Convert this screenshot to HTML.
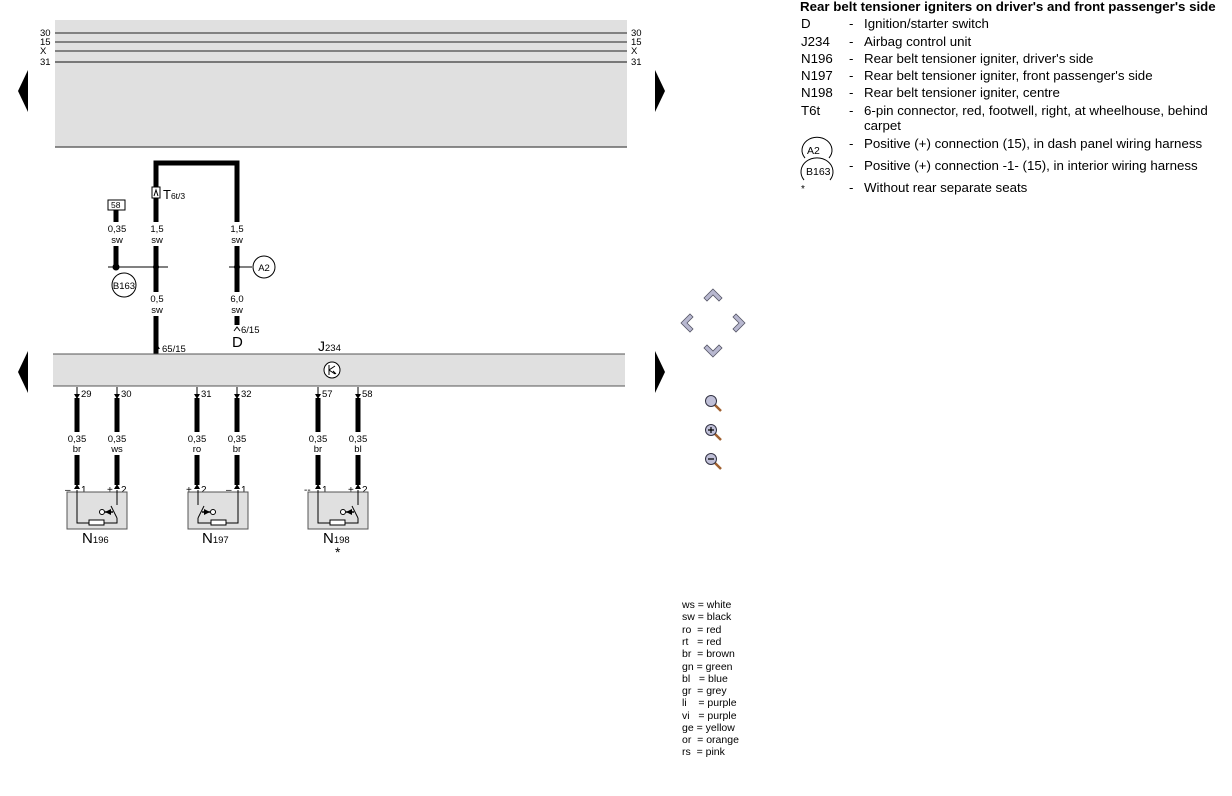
<!DOCTYPE html>
<html><head><meta charset="utf-8"><style>
body{margin:0;background:#fff;width:1232px;height:791px;overflow:hidden;font-family:"Liberation Sans",Arial,sans-serif}
svg text{font-family:"Liberation Sans",Arial,sans-serif}
</style></head><body>
<svg width="1232" height="791" viewBox="0 0 1232 791" xmlns="http://www.w3.org/2000/svg">
<defs>
<g id="comp">
 <rect x="0" y="0" width="60" height="37" fill="#e0e0e0" stroke="#555" stroke-width="1"/>
 <polyline points="10,-2 10,31 50,31 50,26" fill="none" stroke="#000" stroke-width="1"/>
 <rect x="22" y="28" width="15" height="5" fill="#fff" stroke="#000" stroke-width="1"/>
 <polyline points="50,-2 50,13" fill="none" stroke="#000" stroke-width="1"/>
 <line x1="44" y1="14" x2="50" y2="26" stroke="#000" stroke-width="1"/>
 <circle cx="35" cy="20" r="2.5" fill="#fff" stroke="#000"/>
 <polygon points="38,20 44,17 44,23" fill="#000"/>
 <line x1="38" y1="20" x2="46" y2="20" stroke="#000" stroke-width="1.5"/>
</g>
<g id="up"><polygon points="0,0 -3,5 3,5" fill="#000"/></g>
<g id="dn"><polygon points="0,0 -3,-5 3,-5" fill="#000"/></g>
</defs>

<rect x="55" y="20" width="572" height="127" fill="#e0e0e0"/>
<line x1="55" y1="147" x2="627" y2="147" stroke="#666" stroke-width="1.5"/>
<line x1="55" y1="33" x2="627" y2="33" stroke="#222" stroke-width="1"/>
<line x1="55" y1="42" x2="627" y2="42" stroke="#222" stroke-width="1"/>
<line x1="55" y1="51" x2="627" y2="51" stroke="#222" stroke-width="1"/>
<line x1="55" y1="62" x2="627" y2="62" stroke="#555" stroke-width="1.5"/>
<g font-size="9.5" fill="#000">
<text x="40" y="36">30</text><text x="40" y="45">15</text><text x="40" y="54">X</text><text x="40" y="65">31</text>
<text x="631" y="36">30</text><text x="631" y="45">15</text><text x="631" y="54">X</text><text x="631" y="65">31</text>
</g>
<polygon points="28,70 18,91 28,112" fill="#000"/>
<polygon points="655,70 665,91 655,112" fill="#000"/>

<polyline points="156,222 156,163 237,163 237,222" fill="none" stroke="#000" stroke-width="5"/>
<rect x="152" y="187" width="8" height="11" fill="#fff" stroke="#000"/>
<polyline points="154,196 156,190 158,196" fill="none" stroke="#000"/>
<text x="163" y="199" font-size="13">T<tspan font-size="8.5">6t/3</tspan></text>
<rect x="108" y="200" width="17" height="10" fill="#fff" stroke="#000"/>
<text x="111" y="208" font-size="8.5">58</text>
<line x1="116" y1="210" x2="116" y2="222" stroke="#000" stroke-width="5"/>
<g font-size="9.5" text-anchor="middle">
<text x="117" y="232">0,35</text><text x="117" y="243">sw</text>
<text x="157" y="232">1,5</text><text x="157" y="243">sw</text>
<text x="237" y="232">1,5</text><text x="237" y="243">sw</text>
<text x="157" y="302">0,5</text><text x="157" y="313">sw</text>
<text x="237" y="302">6,0</text><text x="237" y="313">sw</text>
</g>
<line x1="116" y1="246" x2="116" y2="267" stroke="#000" stroke-width="5"/>
<line x1="156" y1="246" x2="156" y2="292" stroke="#000" stroke-width="5"/>
<line x1="237" y1="246" x2="237" y2="292" stroke="#000" stroke-width="5"/>
<line x1="108" y1="267" x2="168" y2="267" stroke="#000" stroke-width="1"/>
<line x1="229" y1="267" x2="252" y2="267" stroke="#000" stroke-width="1"/>
<circle cx="116" cy="267" r="3.5" fill="#000"/>
<circle cx="156" cy="267" r="3" fill="#000"/>
<circle cx="237" cy="267" r="3" fill="#000"/>
<circle cx="124" cy="285" r="12" fill="#fff" stroke="#000"/>
<text x="124" y="289" font-size="9.5" text-anchor="middle">B163</text>
<circle cx="264" cy="267" r="11" fill="#fff" stroke="#000"/>
<text x="264" y="271" font-size="9.5" text-anchor="middle">A2</text>
<line x1="156" y1="316" x2="156" y2="354" stroke="#000" stroke-width="5"/>
<line x1="237" y1="316" x2="237" y2="325" stroke="#000" stroke-width="5"/>
<polyline points="234,331 237,327 240,331" fill="none" stroke="#000"/>
<text x="241" y="333" font-size="9.5">6/15</text>
<text x="232" y="347" font-size="15">D</text>
<use href="#up" x="157" y="344"/>
<text x="162" y="352" font-size="9.5">65/15</text>

<text x="318" y="351" font-size="14">J<tspan font-size="9.5">234</tspan></text>
<rect x="53" y="354" width="572" height="32" fill="#e0e0e0"/>
<line x1="53" y1="354" x2="625" y2="354" stroke="#555"/>
<line x1="53" y1="386" x2="625" y2="386" stroke="#555"/>
<circle cx="332" cy="370" r="8" fill="#fff" stroke="#000"/>
<path d="M329,365 L329,375 M329,370 L335,366 M329,370 L335,374 M333,371 L336,374" stroke="#000" fill="none"/>
<polygon points="28,351 18,372 28,393" fill="#000"/>
<polygon points="655,351 665,372 655,393" fill="#000"/>

<g stroke="#000" stroke-width="5">
<line x1="77" y1="398" x2="77" y2="432"/><line x1="117" y1="398" x2="117" y2="432"/>
<line x1="197" y1="398" x2="197" y2="432"/><line x1="237" y1="398" x2="237" y2="432"/>
<line x1="318" y1="398" x2="318" y2="432"/><line x1="358" y1="398" x2="358" y2="432"/>
<line x1="77" y1="455" x2="77" y2="485"/><line x1="117" y1="455" x2="117" y2="485"/>
<line x1="197" y1="455" x2="197" y2="485"/><line x1="237" y1="455" x2="237" y2="485"/>
<line x1="318" y1="455" x2="318" y2="485"/><line x1="358" y1="455" x2="358" y2="485"/>
</g>
<g stroke="#000"><line x1="77" y1="387" x2="77" y2="398"/><line x1="117" y1="387" x2="117" y2="398"/><line x1="197" y1="387" x2="197" y2="398"/><line x1="237" y1="387" x2="237" y2="398"/><line x1="318" y1="387" x2="318" y2="398"/><line x1="358" y1="387" x2="358" y2="398"/></g>
<use href="#dn" x="77" y="399"/><use href="#dn" x="117" y="399"/><use href="#dn" x="197" y="399"/><use href="#dn" x="237" y="399"/><use href="#dn" x="318" y="399"/><use href="#dn" x="358" y="399"/>
<g font-size="9.5">
<text x="81" y="397">29</text><text x="121" y="397">30</text><text x="201" y="397">31</text><text x="241" y="397">32</text><text x="322" y="397">57</text><text x="362" y="397">58</text>
</g>
<g font-size="9.5" text-anchor="middle">
<text x="77" y="442">0,35</text><text x="77" y="452">br</text>
<text x="117" y="442">0,35</text><text x="117" y="452">ws</text>
<text x="197" y="442">0,35</text><text x="197" y="452">ro</text>
<text x="237" y="442">0,35</text><text x="237" y="452">br</text>
<text x="318" y="442">0,35</text><text x="318" y="452">br</text>
<text x="358" y="442">0,35</text><text x="358" y="452">bl</text>
</g>
<use href="#up" x="77" y="484"/><use href="#up" x="117" y="484"/><use href="#up" x="197" y="484"/><use href="#up" x="237" y="484"/><use href="#up" x="318" y="484"/><use href="#up" x="358" y="484"/>
<g font-size="10">
<text x="65" y="493">–</text><text x="81" y="493">1</text><text x="107" y="493">+</text><text x="121" y="493">2</text>
<text x="186" y="493">+</text><text x="201" y="493">2</text><text x="226" y="493">–</text><text x="241" y="493">1</text>
<text x="304" y="493">--</text><text x="322" y="493">1</text><text x="348" y="493">+</text><text x="362" y="493">2</text>
</g>
<use href="#comp" x="67" y="492"/>
<use href="#comp" transform="translate(248,492) scale(-1,1)"/>
<use href="#comp" x="308" y="492"/>
<text x="82" y="543" font-size="15">N<tspan font-size="9.5">196</tspan></text>
<text x="202" y="543" font-size="15">N<tspan font-size="9.5">197</tspan></text>
<text x="323" y="543" font-size="15">N<tspan font-size="9.5">198</tspan></text>
<text x="335" y="557" font-size="14">*</text>

<g fill="#b8b8d0" stroke="#556" stroke-width="0.8">
<polygon points="713,289 722,298 719,301 713,295 707,301 704,298"/>
<polygon points="713,357 722,348 719,345 713,351 707,345 704,348"/>
<polygon points="681,323 690,314 693,317 687,323 693,329 690,332"/>
<polygon points="745,323 736,314 733,317 739,323 733,329 736,332"/>
</g>
<g stroke="#a06030" stroke-width="2.5"><line x1="715" y1="405" x2="721" y2="411"/><line x1="715" y1="434" x2="721" y2="440"/><line x1="715" y1="463" x2="721" y2="469"/></g>
<g fill="#c0c0d8" stroke="#334"><circle cx="711" cy="401" r="5.5"/><circle cx="711" cy="430" r="5.5"/><circle cx="711" cy="459" r="5.5"/></g>
<path d="M708,430 h6 M711,427 v6 M708,459 h6" stroke="#000" stroke-width="1.2"/>

<g font-size="10.5">
<text x="682" y="608">ws = white</text><text x="682" y="620">sw = black</text><text x="682" y="633">ro&#160; = red</text>
<text x="682" y="645">rt&#160;&#160; = red</text><text x="682" y="657">br&#160; = brown</text><text x="682" y="670">gn = green</text>
<text x="682" y="682">bl&#160;&#160; = blue</text><text x="682" y="694">gr&#160; = grey</text><text x="682" y="706">li&#160;&#160;&#160; = purple</text>
<text x="682" y="719">vi&#160;&#160; = purple</text><text x="682" y="731">ge = yellow</text><text x="682" y="743">or&#160; = orange</text>
<text x="682" y="755">rs&#160; = pink</text>
</g>

<text x="800" y="11" font-size="13.3" font-weight="bold">Rear belt tensioner igniters on driver's and front passenger's side</text>
<g font-size="13.3">
<text x="801" y="28">D</text><text x="849" y="28">-</text><text x="864" y="28">Ignition/starter switch</text>
<text x="801" y="46">J234</text><text x="849" y="46">-</text><text x="864" y="46">Airbag control unit</text>
<text x="801" y="63">N196</text><text x="849" y="63">-</text><text x="864" y="63">Rear belt tensioner igniter, driver's side</text>
<text x="801" y="80">N197</text><text x="849" y="80">-</text><text x="864" y="80">Rear belt tensioner igniter, front passenger's side</text>
<text x="801" y="97">N198</text><text x="849" y="97">-</text><text x="864" y="97">Rear belt tensioner igniter, centre</text>
<text x="801" y="115">T6t</text><text x="849" y="115">-</text><text x="864" y="115">6-pin connector, red, footwell, right, at wheelhouse, behind</text>
<text x="864" y="130">carpet</text>
<text x="849" y="148">-</text><text x="864" y="148">Positive (+) connection (15), in dash panel wiring harness</text>
<text x="849" y="170">-</text><text x="864" y="170">Positive (+) connection -1- (15), in interior wiring harness</text>
<text x="801" y="192" font-size="10">*</text><text x="849" y="192">-</text><text x="864" y="192">Without rear separate seats</text>
</g>
<path d="M805,158 A15,13 0 1 1 829,158" fill="none" stroke="#000"/>
<text x="807" y="154" font-size="10.5">A2</text>
<path d="M804,180 A16,14 0 1 1 830,180" fill="none" stroke="#000"/>
<text x="806" y="175" font-size="10.5">B163</text>
</svg>
</body></html>
